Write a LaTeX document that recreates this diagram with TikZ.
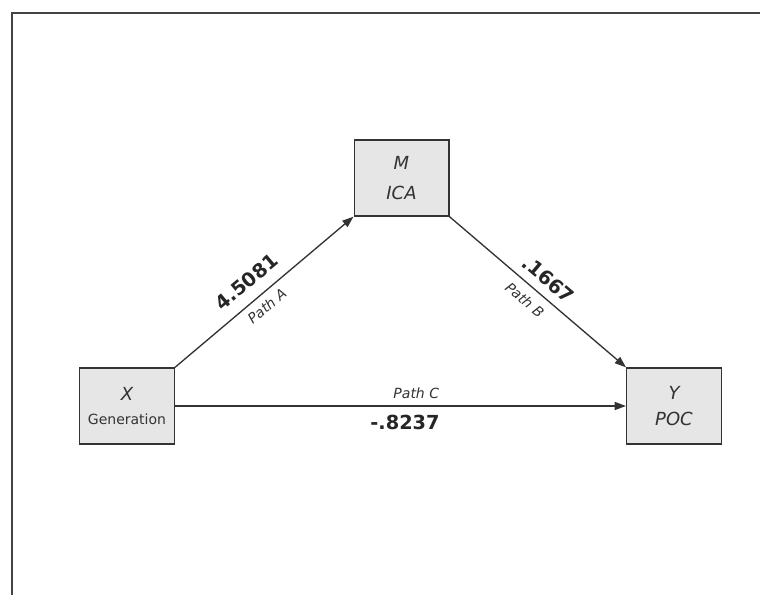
\documentclass[tikz,border=0pt]{standalone}
\usepackage{fontspec}
\setmainfont{DejaVu Sans}
\usetikzlibrary{arrows.meta}
\definecolor{boxfill}{HTML}{E6E6E6}
\definecolor{edge}{HTML}{333333}
\definecolor{frame}{HTML}{444444}
\tikzset{
  varbox/.style={draw=edge, line width=1pt, fill=boxfill, minimum width=71pt, minimum height=57pt,
    align=center, text=edge, inner sep=0pt, font=\fontsize{13.5}{22}\selectfont\itshape},
  pathline/.style={draw=edge, line width=1pt, -{Triangle[length=8.5pt,width=6pt]}},
  coef/.style={font=\fontsize{14.5}{16}\selectfont\bfseries, text=black!85},
  pathlab/.style={font=\fontsize{10.5}{12}\selectfont\itshape, text=edge},
}
\begin{document}
\begin{tikzpicture}[x=0.75pt, y=-0.75pt]
\useasboundingbox (0,0) rectangle (760,595);
\fill[white] (0,0) rectangle (760,595);
\draw[frame, line width=1.5pt] (12,595) -- (12,13) -- (760,13);

\node[varbox] (M) at (401.5,178) {M\\ICA};
\node[varbox] (X) at (127,406) {X\\[-4pt]{\fontsize{10.5}{12}\selectfont\upshape Generation}};
\node[varbox] (Y) at (674,406) {Y\\[-2pt]POC};

\draw[pathline] (X.north east) -- (M.south west)
  node[coef, pos=0.47, sloped, above=5pt] (a) {4.5081}
  node[pathlab, pos=0.47, sloped, below=1.5pt] (pa) {Path A};
\draw[pathline] (M.south east) -- (Y.north west)
  node[coef, pos=0.5, sloped, above=3pt] (b) {.1667}
  node[pathlab, pos=0.48, sloped, below=3pt] (pb) {Path B};
\draw[pathline] (X.east) -- (Y.west)
  node[pathlab, pos=0.535, above=2pt] (pc) {Path C}
  node[coef, pos=0.51, below=3pt] (c) {-.8237};
\end{tikzpicture}
\end{document}
